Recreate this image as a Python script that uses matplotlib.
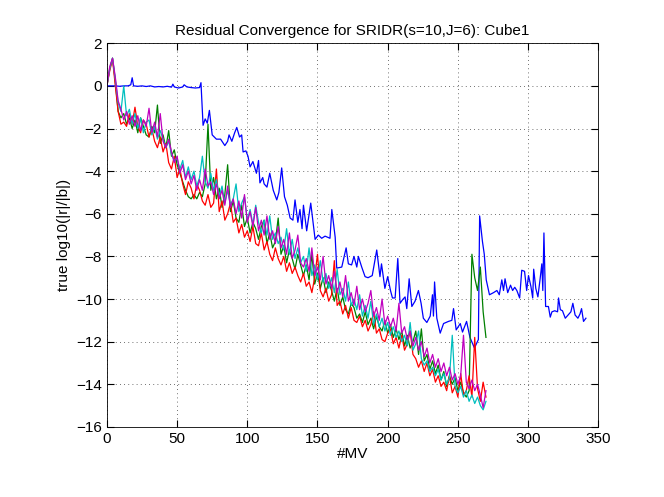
import numpy as np
import matplotlib
matplotlib.use('Agg')
from matplotlib import pyplot as plt

# residual histories, one value every 2 MV (0..270)
res_green = [
    0.0, 0.8, 1.3, 0.2, -1.2, -1.5, -1.3, -1.8, -1.5, -2.0,
    -1.6, -2.2, -1.5, -1.9, -2.3, -2.4, -1.9, -2.2, -0.9, -2.7,
    -2.3, -2.9, -2.1, -3.3, -3.0, -3.7, -4.1, -4.5, -4.9, -5.2,
    -5.3, -5.1, -5.3, -5.0, -5.2, -4.6, -1.8, -4.9, -4.3, -5.3,
    -4.8, -5.7, -5.1, -3.7, -5.9, -5.4, -6.2, -6.4, -5.6, -6.6,
    -6.2, -6.9, -6.4, -6.7, -7.2, -6.6, -6.3, -7.4, -6.9, -7.6,
    -7.3, -6.2, -7.9, -7.5, -8.3, -7.7, -8.1, -8.6, -7.9, -8.4,
    -8.9, -8.4, -9.1, -7.9, -9.3, -8.8, -9.5, -9.0, -9.7, -9.2,
    -9.6, -10.1, -9.5, -10.3, -9.9, -10.5, -10.7, -10.2, -10.4, -10.9,
    -10.7, -11.1, -10.6, -11.2, -10.9, -11.4, -10.8, -11.3, -11.5, -11.0,
    -11.6, -11.2, -11.8, -11.4, -11.9, -11.5, -12.2, -11.7, -12.3, -12.0,
    -11.5, -12.6, -11.4, -12.9, -12.6, -13.3, -12.9, -13.5, -13.1, -13.8,
    -13.4, -14.1, -13.6, -14.0, -13.7, -14.3, -13.9, -14.4, -14.6, -14.3,
    -7.9, -9.0, -9.6, -8.5, -10.6, -11.8,
]
res_red = [
    0.0, 0.7, 1.25, 0.0, -1.2, -1.8, -1.7, -1.9, -1.3, -1.8,
    -1.0, -1.9, -2.2, -1.6, -1.8, -2.4, -2.0, -2.6, -2.9, -2.4,
    -3.1, -2.7, -3.6, -3.9, -3.3, -4.3, -3.9, -4.6, -5.1, -4.5,
    -4.8, -5.3, -4.6, -4.9, -5.4, -5.6, -5.1, -5.7, -5.5, -3.9,
    -5.9, -5.4, -6.3, -6.0, -5.5, -6.4, -6.2, -6.9, -6.5, -7.1,
    -6.8, -7.3, -6.6, -7.4, -7.5, -6.9, -7.7, -7.3, -7.9, -8.2,
    -7.6, -8.1, -8.4, -8.0, -8.7, -8.3, -8.8, -8.5, -8.9, -9.2,
    -8.8, -9.4, -9.2, -9.7, -9.0, -7.9, -9.6, -9.9, -9.5, -10.1,
    -9.8, -8.2, -10.3, -10.1, -10.7, -10.3, -10.9, -10.4, -11.0, -11.1,
    -10.8, -11.3, -11.0, -11.5, -11.2, -10.6, -11.6, -11.4, -11.9, -12.0,
    -11.6, -11.4, -12.1, -11.8, -12.3, -11.7, -12.4, -12.1, -11.5, -12.6,
    -12.8, -13.2, -12.9, -13.4, -13.0, -13.6, -13.3, -13.9, -13.6, -14.1,
    -13.9, -14.3, -13.6, -14.4, -14.1, -14.6, -13.5, -14.5, -14.3, -13.6,
    -14.6, -11.8, -14.2, -14.8, -13.9, -14.6,
]
res_cyan = [
    0.0, 0.8, 1.3, 0.3, -0.8, -1.2, 0.0, -1.4, -1.1, -1.8,
    -1.3, -2.0, -1.5, -2.2, -1.7, -1.6, -2.3, -1.9, -2.5, -2.1,
    -2.5, -2.9, -2.6, -3.2, -3.5, -3.4, -3.9, -3.5, -4.3, -3.8,
    -4.4, -4.0, -4.7, -4.3, -3.3, -4.5, -4.8, -4.1, -4.9, -4.4,
    -5.2, -4.7, -5.5, -4.9, -5.6, -5.3, -4.6, -5.9, -5.5, -5.2,
    -6.3, -5.8, -6.5, -5.6, -6.4, -6.9, -6.3, -7.0, -6.1, -7.2,
    -6.9, -7.4, -7.1, -7.7, -6.7, -7.9, -7.2, -8.1, -7.6, -8.3,
    -8.0, -8.7, -7.6, -8.9, -8.4, -9.1, -8.2, -9.2, -8.8, -9.5,
    -9.0, -9.7, -8.6, -9.8, -9.5, -10.1, -9.2, -10.3, -10.0, -10.5,
    -9.8, -10.8, -10.3, -10.9, -10.1, -11.2, -10.7, -11.3, -10.9, -11.5,
    -11.1, -11.7, -11.3, -11.8, -11.5, -12.0, -11.7, -12.2, -11.1, -12.4,
    -12.1, -11.5, -12.8, -13.1, -12.9, -13.4, -13.2, -13.6, -13.3, -13.8,
    -13.5, -14.0, -13.7, -11.7, -14.1, -14.4, -14.1, -14.6, -14.3, -14.8,
    -14.5, -14.9, -14.6, -15.0, -15.2, -14.8,
]
res_magenta = [
    0.0, 0.9, 1.3, 0.4, -0.7, -1.1, -1.6, -1.2, -1.8, -1.4,
    -1.9, -1.4, -2.1, -1.6, -1.9, -1.05, -2.2, -1.7, -2.4, -1.3,
    -2.6, -2.9, -2.5, -3.1, -3.6, -3.3, -4.1, -3.7, -4.4, -4.0,
    -4.6, -4.2, -4.9, -4.4, -4.9, -3.9, -4.7, -4.5, -5.1, -4.6,
    -5.3, -4.9, -5.6, -4.7, -5.7, -5.3, -6.0, -5.4, -6.2, -5.1,
    -6.4, -5.9, -6.6, -5.7, -6.8, -6.3, -7.0, -6.1, -7.2, -6.8,
    -7.4, -6.6, -7.6, -7.2, -7.9, -6.9, -8.1, -7.7, -7.0, -8.3,
    -8.5, -8.1, -8.7, -7.6, -8.9, -8.5, -9.1, -8.0, -9.3, -8.9,
    -9.5, -8.7, -9.7, -9.2, -9.9, -8.9, -10.1, -9.7, -10.3, -9.4,
    -10.5, -10.0, -10.6, -10.2, -9.6, -10.8, -10.4, -11.0, -10.0, -11.2,
    -10.8, -11.3, -10.9, -11.5, -10.2, -11.6, -11.3, -11.9, -11.5, -12.2,
    -11.8, -12.4, -12.0, -12.7, -12.3, -13.0, -12.6, -13.2, -12.8, -13.4,
    -13.0, -13.6, -13.2, -13.8, -13.5, -14.0, -13.6, -11.7, -13.9, -14.2,
    -13.8, -14.3, -14.0, -14.5, -15.1, -14.3,
]

# blue run, sampled where it bends
blue_mv = [
    0, 3, 6, 9, 12, 15, 17, 18, 19, 22, 25, 28, 31, 34, 37, 40, 43, 46, 47, 48,
    51, 54, 55, 57, 60, 63, 66, 67, 68.5, 70, 71.5, 73, 75, 78, 81, 84, 86, 87, 89, 91,
    92.5, 94.5, 96, 97, 99, 100.5, 102, 104, 106.5, 108, 109, 111, 112, 114, 116, 118.5, 121, 122.5, 124.5, 126.5,
    128.5, 130.5, 132.5, 134, 136, 137.5, 139, 140, 142.3, 145.2, 148.3, 150.6, 153, 155.4, 158.9, 160.2, 162.6, 163.7, 167.3, 170.4,
    172, 174.3, 176, 178, 179.1, 181.5, 183.9, 186, 189, 192.2, 194.5, 195.6, 198, 200, 202, 203.4, 205.3, 207.2, 208.8, 211,
    212.4, 213.6, 215.3, 217.2, 219.5, 221.9, 223.8, 225.4, 227.9, 230.3, 231.9, 232.6, 233.4, 235, 237.4, 239.8, 243.3, 245.7, 246.9, 248.8,
    251.7, 253.3, 256.2, 258.6, 261.8, 264.6, 265.5, 267.5, 268.8, 270.2, 272.5, 275.4, 277.8, 279.5, 281.3, 282.5, 283.6, 285.5, 287.5, 289,
    290.5, 292, 294, 295.5, 297.5, 299, 300.3, 302, 303.3, 304, 305.5, 307, 308.5, 309.8, 310.5, 311.3, 312.5, 314.5, 315.8, 317,
    319, 321, 321.7, 323, 324.5, 326.5, 328.5, 330.5, 331.9, 333.5, 335.5, 337, 338.1, 339.5, 341.2,
]
blue_res = [
    0.0, 0.0, 0.0, -0.02, 0.0, 0.0, 0.05, 0.38, 0.0, -0.02, 0.0, -0.03, 0.0, -0.05, -0.03, -0.05, -0.02, -0.06, 0.08, -0.05,
    -0.1, -0.05, 0.05, -0.05, -0.08, -0.1, -0.08, 0.15, -1.85, -1.55, -1.75, -1.15, -2.3, -2.5, -2.5, -2.8, -2.6, -2.3, -2.6, -2.2,
    -1.95, -2.4, -2.3, -3.1, -3.05, -3.3, -3.8, -3.55, -4.1, -3.5, -4.55, -4.3, -4.6, -4.75, -4.1, -4.9, -5.35, -5.0, -3.85, -5.2,
    -5.6, -6.2, -6.3, -5.35, -6.4, -5.8, -6.7, -5.6, -6.8, -5.5, -7.2, -7.0, -7.15, -7.05, -7.15, -5.8, -7.1, -8.55, -8.5, -7.6,
    -8.35, -8.4, -8.0, -8.5, -8.0, -8.5, -8.95, -9.0, -8.9, -7.7, -8.95, -8.35, -9.5, -8.95, -9.6, -9.95, -9.95, -8.1, -10.2, -10.0,
    -9.9, -10.45, -9.05, -10.35, -10.1, -9.6, -10.2, -10.9, -11.1, -10.8, -9.8, -10.8, -9.2, -10.9, -11.6, -11.15, -11.05, -11.0, -10.45, -11.45,
    -11.15, -11.55, -11.05, -11.8, -12.3, -11.9, -6.1, -7.3, -7.9, -9.1, -9.8, -9.7, -9.6, -9.8, -9.1, -9.6, -9.05, -9.7, -9.35, -9.6,
    -9.45, -9.6, -9.95, -8.65, -8.7, -9.6, -8.9, -9.4, -9.95, -8.6, -9.5, -9.9, -9.1, -8.35, -9.6, -6.9, -10.35, -10.35, -10.85, -10.6,
    -10.55, -10.6, -9.95, -10.5, -10.55, -10.9, -10.75, -10.6, -10.2, -10.75, -10.9, -10.7, -10.45, -11.05, -10.9,
]

mv_step = 2


def main():
    plt.rcParams['font.family'] = ['Liberation Sans', 'DejaVu Sans']
    fig = plt.figure(figsize=(6.64, 4.97), dpi=100)
    ax = fig.add_axes([0.161, 0.141, 0.740, 0.772])

    ax.plot(blue_mv, blue_res, color=(0, 0, 1), lw=0.9)
    for res, col in [(res_green, (0, 0.5, 0)), (res_red, (1, 0, 0)),
                     (res_cyan, (0, 0.75, 0.75)), (res_magenta, (0.75, 0, 0.75))]:
        mv = np.arange(len(res)) * mv_step
        ax.plot(mv, res, color=col, lw=0.9)

    ax.set_xlim(0, 350)
    ax.set_ylim(-16, 2)
    ax.set_xticks(np.arange(0, 351, 50))
    ax.set_yticks(np.arange(-16, 3, 2))
    ax.grid(True, linestyle=(0, (1, 4)), color='0.25', lw=0.6)
    ax.tick_params(direction='in', top=True, right=True, length=5, labelsize=11)
    for s in ax.spines.values():
        s.set_linewidth(0.6)

    ax.set_title('Residual Convergence for SRIDR(s=10,J=6): Cube1', fontsize=11)
    ax.set_xlabel('#MV', fontsize=11, labelpad=1)
    ax.set_ylabel('true log10(|r|/|b|)', fontsize=11)

    fig.savefig('out.png', dpi=100)


if __name__ == '__main__':
    main()
